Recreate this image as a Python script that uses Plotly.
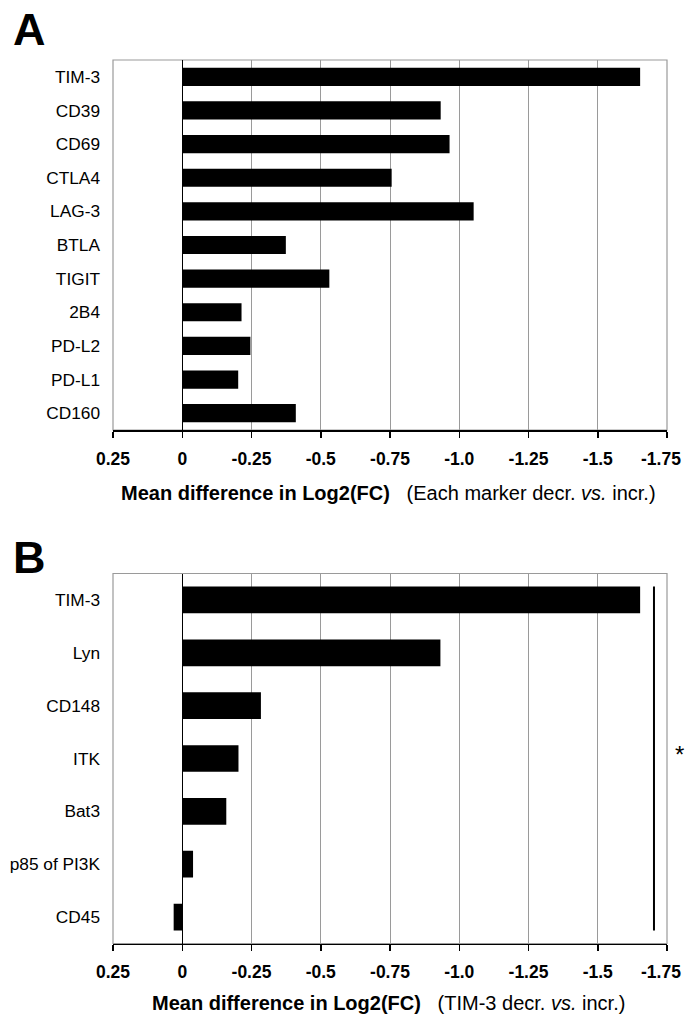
import plotly.graph_objects as go

# ---------------- data ----------------
markers_a = ["TIM-3", "CD39", "CD69", "CTLA4", "LAG-3", "BTLA", "TIGIT",
             "2B4", "PD-L2", "PD-L1", "CD160"]
values_a = [-1.653, -0.933, -0.965, -0.756, -1.052, -0.374, -0.531,
            -0.214, -0.246, -0.202, -0.410]

markers_b = ["TIM-3", "Lyn", "CD148", "ITK", "Bat3", "p85 of PI3K", "CD45"]
values_b = [-1.653, -0.932, -0.284, -0.203, -0.159, -0.039, 0.031]

tick_vals = [0.25, 0, -0.25, -0.5, -0.75, -1.0, -1.25, -1.5, -1.75]
tick_text = ["0.25", "0", "-0.25", "-0.5", "-0.75", "-1.0", "-1.25", "-1.5", "-1.75"]

sig_x = [-1.703]       # significance bracket position (panel B)
sig_label = ["*"]

title_a = "<b>Mean difference in Log2(FC)</b>&nbsp;&nbsp;&nbsp;(Each marker decr. <i>vs.</i> incr.)"
title_b = "<b>Mean difference in Log2(FC)</b>&nbsp;&nbsp;&nbsp;(TIM-3 decr. <i>vs.</i> incr.)"

# ---------------- style ----------------
FONT = "Liberation Sans, Arial, sans-serif"
W, H = 685, 1014
GRID = "#9a9a9a"
x_dom = [113 / W, 667 / W]
ya_dom = [1 - 430 / H, 1 - 60 / H]
yb_dom = [1 - 943.5 / H, 1 - 573.5 / H]
bar_w_a = 0.54
bar_w_b = 0.505
TICK_FONT = dict(family=FONT, size=17.5, color="black", weight="bold")

# the last tick label sits at the page edge: it is drawn as an annotation
# nudged inward (as in the reference), the rest come from the axis
axis_ticktext = tick_text[:-1] + [""]

fig = go.Figure()
fig.add_trace(go.Bar(x=values_a, y=markers_a, orientation="h",
                     marker=dict(color="black", line=dict(width=0)),
                     width=bar_w_a, xaxis="x", yaxis="y", showlegend=False))
fig.add_trace(go.Bar(x=values_b, y=markers_b, orientation="h",
                     marker=dict(color="black", line=dict(width=0)),
                     width=bar_w_b, xaxis="x2", yaxis="y2", showlegend=False))

def xaxis_cfg(anchor):
    return dict(domain=x_dom, anchor=anchor, range=[0.25, -1.75],
                tickmode="array", tickvals=tick_vals, ticktext=axis_ticktext,
                tickfont=TICK_FONT,
                ticks="outside", ticklen=6, tickwidth=1.5, tickcolor="black",
                showline=True, linecolor="black", linewidth=1.5,
                showgrid=True, gridcolor=GRID, gridwidth=1,
                zeroline=True, zerolinecolor="black", zerolinewidth=1.5,
                ticklabelstandoff=6, ticklabeloverflow="allow",
                automargin=False, fixedrange=True)

def yaxis_cfg(anchor, dom, cats):
    return dict(domain=dom, anchor=anchor, type="category",
                categoryorder="array", categoryarray=cats,
                autorange="reversed", showgrid=False, zeroline=False,
                showline=False, ticks="",
                tickfont=dict(family=FONT, size=17.3, color="black"),
                ticklabelstandoff=12, automargin=False, fixedrange=True)

fig.update_layout(
    width=W, height=H,
    margin=dict(l=0, r=0, t=0, b=0, autoexpand=False),
    paper_bgcolor="white", plot_bgcolor="white",
    xaxis=xaxis_cfg("y"), yaxis=yaxis_cfg("x", ya_dom, markers_a),
    xaxis2=xaxis_cfg("y2"), yaxis2=yaxis_cfg("x2", yb_dom, markers_b),
    font=dict(family=FONT, color="black"),
)

# edge tick labels
for xr, yr in [("x", "y domain"), ("x2", "y2 domain")]:
    fig.add_annotation(text=tick_text[-1], xref=xr, yref=yr,
                       x=tick_vals[-1], y=0, xanchor="center", yanchor="middle",
                       xshift=-6, yshift=-28.5, showarrow=False, borderpad=0,
                       font=TICK_FONT)

# plot frames (gray)
for xr, yr in [("x domain", "y domain"), ("x2 domain", "y2 domain")]:
    fig.add_shape(type="rect", xref=xr, yref=yr, x0=0, x1=1, y0=0, y1=1,
                  line=dict(color=GRID, width=1.2), layer="below")

# significance bracket in B
fig.add_shape(type="line", xref="x2", yref="y2",
              x0=sig_x[0], x1=sig_x[0],
              y0=-bar_w_b / 2, y1=len(markers_b) - 1 + bar_w_b / 2,
              line=dict(color="black", width=2))
fig.add_annotation(text=sig_label[0], xref="paper", yref="y2",
                   x=1.0, y=markers_b[3], xanchor="right", yanchor="middle",
                   showarrow=False, yshift=4, borderpad=0,
                   font=dict(family=FONT, size=24, color="black"))

# axis titles
cx = 388 / W
fig.add_annotation(text=title_a, xref="paper", yref="paper", x=cx, y=1 - 493 / H,
                   xanchor="center", yanchor="middle", showarrow=False,
                   font=dict(family=FONT, size=20, color="black"))
fig.add_annotation(text=title_b, xref="paper", yref="paper", x=cx, y=1 - 1003 / H,
                   xanchor="center", yanchor="middle", showarrow=False,
                   font=dict(family=FONT, size=20, color="black"))

# panel letters
fig.add_annotation(text="<b>A</b>", xref="paper", yref="paper", x=11 / W, y=1 - 29 / H,
                   xanchor="left", yanchor="middle", showarrow=False,
                   font=dict(family=FONT, size=45, color="black"))
fig.add_annotation(text="<b>B</b>", xref="paper", yref="paper", x=11 / W, y=1 - 557 / H,
                   xanchor="left", yanchor="middle", showarrow=False,
                   font=dict(family=FONT, size=45, color="black"))

fig.write_html("out.html",
               config={"displayModeBar": False, "staticPlot": True},
               post_script="document.body.style.margin='0';"
                           "document.body.style.overflow='hidden';")
